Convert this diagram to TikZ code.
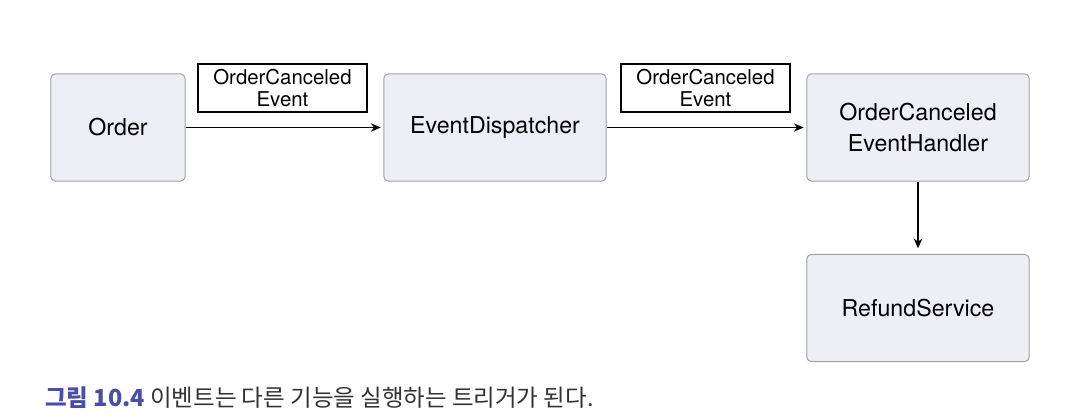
\documentclass[tikz,border=0pt]{standalone}
\usepackage{fontspec}
\setmainfont{TeX Gyre Heros}
\newfontfamily\korfont{Noto Sans CJK KR}
\usetikzlibrary{arrows.meta}
\definecolor{boxfill}{HTML}{EEEEF5}
\definecolor{boxline}{HTML}{A2A2AA}
\definecolor{figblue}{HTML}{4B4DA6}
\definecolor{captext}{HTML}{333333}
\tikzset{
  comp/.style={draw=boxline, fill=boxfill, rounded corners=3pt, line width=0.7pt, align=center,
    font=\fontsize{16.5}{22}\selectfont, minimum height=2.675cm, inner sep=2pt},
  msg/.style={draw, line width=0.8pt, align=center, font=\fontsize{14.5}{15.5}\selectfont,
    minimum width=4.225cm, minimum height=1.2cm, inner sep=1pt},
}
\begin{document}
\begin{tikzpicture}[>={Stealth[length=7pt, width=6pt]}, x=0.025cm, y=-0.025cm]
    \useasboundingbox (0,0) rectangle (1083,414);
    % Components
    \node[comp, minimum width=3.35cm] (order) at (118, 127.5) {Order};
    \node[comp, minimum width=5.55cm] (disp) at (495, 127.5) {EventDispatcher};
    \node[comp, minimum width=5.55cm] (handler) at (918, 127.5) {OrderCanceled\\EventHandler};
    \node[comp, minimum width=5.55cm] (refund) at (918, 308) {RefundService};

    % Event labels above the arrows
    \node[msg] (msgA) at (282.5, 88) {OrderCanceled\\Event};
    \node[msg] (msgB) at (705.5, 88) {OrderCanceled\\Event};

    % Arrows
    \draw[->, line width=1pt, shorten >=2pt] (order) -- (disp);
    \draw[->, line width=1pt, shorten >=2pt] (disp) -- (handler);
    \draw[->, line width=1pt, shorten >=4pt] (handler) -- (refund);

    % Caption
    \node[anchor=base west, inner sep=0pt, font=\korfont\fontsize{16.7}{19}\selectfont, text=captext] (caption) at (45, 406)
      {{\color{figblue}\bfseries 그림 10.4} 이벤트는 다른 기능을 실행하는 트리거가 된다.};
\end{tikzpicture}
\end{document}
